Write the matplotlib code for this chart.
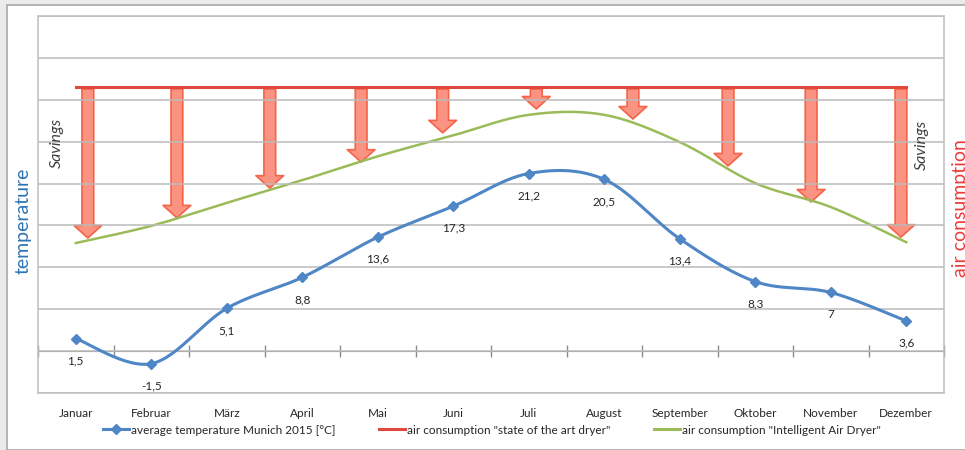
import numpy as np
import matplotlib
matplotlib.use("Agg")
import matplotlib.pyplot as plt
from matplotlib.patches import FancyArrowPatch, Rectangle
from matplotlib.lines import Line2D

plt.rcParams['font.family'] = ['Lato', 'DejaVu Sans']

# ---- data ----
months = ['Januar', 'Februar', 'März', 'April', 'Mai', 'Juni', 'Juli',
          'August', 'September', 'Oktober', 'November', 'Dezember']
temperature = [1.5, -1.5, 5.1, 8.8, 13.6, 17.3, 21.2, 20.5, 13.4, 8.3, 7, 3.6]
temp_labels = ['1,5', '-1,5', '5,1', '8,8', '13,6', '17,3', '21,2', '20,5',
               '13,4', '8,3', '7', '3,6']
# air consumption (arbitrary units, no scale shown in the original)
air_state_of_art = [73] * 12
air_intelligent = [35.8, 39.9, 45.4, 50.8, 56.5, 61.5, 66.4, 66.4, 59.9, 50.1, 44.4, 36.0]
# "Savings" arrows: position (month index) and tip level (air units)
arrow_pos = [0.16, 1.34, 2.57, 3.78, 4.86, 6.10, 7.38, 8.64, 9.74, 10.93]
arrow_tip = [37.0, 41.8, 48.9, 55.1, 62.1, 67.8, 65.4, 54.2, 45.6, 37.2]

BLUE = '#4F86C6'
RED = '#E0483E'
GREEN = '#9BBB59'
GRID = '#BBBBBB'


def smooth(xs, ys, n=30):
    """Excel-like smoothed line (Bezier through the points)"""
    xs = np.asarray(xs, float)
    ys = np.asarray(ys, float)
    px = np.concatenate([[xs[0]], xs, [xs[-1]]])
    py = np.concatenate([[ys[0]], ys, [ys[-1]]])
    out_x, out_y = [], []
    t = np.linspace(0, 1, n)
    for i in range(1, len(px) - 2):
        p0, p1, p2, p3 = [np.array([px[j], py[j]]) for j in (i - 1, i, i + 1, i + 2)]
        c1 = p1 + (p2 - p0) / 6
        c2 = p2 - (p3 - p1) / 6
        b = ((1 - t) ** 3)[:, None] * p1 + (3 * (1 - t) ** 2 * t)[:, None] * c1 \
            + (3 * (1 - t) * t ** 2)[:, None] * c2 + (t ** 3)[:, None] * p2
        out_x.extend(b[:, 0])
        out_y.extend(b[:, 1])
    return np.array(out_x), np.array(out_y)


fig = plt.figure(figsize=(9.65, 4.5), dpi=100)
fig.patch.set_facecolor('#EBEBEB')
W, H = 965.0, 450.0

# white panel
fig.patches.append(Rectangle((7 / W, 0), 1.0, 1 - 5 / H, transform=fig.transFigure,
                             facecolor='white', edgecolor='#A8A8A8', linewidth=1.2,
                             zorder=0))
# white plot area background
fig.patches.append(Rectangle((38 / W, 1 - 393 / H), (944 - 38) / W, (393 - 16) / H,
                             transform=fig.transFigure, facecolor='white',
                             edgecolor='none', zorder=0.5))

ax = fig.add_axes([38 / W, 1 - 393 / H, (944 - 38) / W, (393 - 16) / H])
x = np.arange(len(months))

# secondary axis for air consumption
ax2 = ax.twinx()
ax2.set_ylim(0, 90)
ax2.set_yticks([])
for s in ax2.spines.values():
    s.set_visible(False)

ax.set_xlim(-0.5, 11.5)
ax.set_ylim(-5, 40)
ax.set_yticks(np.arange(-5, 41, 5))
ax.yaxis.grid(True, color=GRID, linewidth=1.1)
ax.tick_params(axis='y', left=False, right=False, labelleft=False)
ax.set_xticks(x)
ax.set_xticklabels(months, fontsize=8.5, color='#262626')
ax.tick_params(axis='x', bottom=False, pad=7)
for s in ax.spines.values():
    s.set_color('#BFBFBF')
    s.set_linewidth(1.1)
ax.set_axisbelow(True)

# zero axis with category ticks
zero = ax.secondary_xaxis(5 / 45)
zero.set_xticks(np.arange(-0.5, 12, 1.0))
zero.tick_params(direction='inout', length=8, color='#8C8C8C', width=1, labelbottom=False)
zero.spines['bottom'].set_color('#8C8C8C')

for xp, tip in zip(arrow_pos, arrow_tip):
    arr = FancyArrowPatch((xp, air_state_of_art[0] - 0.4), (xp, tip),
                          arrowstyle='simple,head_width=20,head_length=9,tail_width=8.5',
                          mutation_scale=1, shrinkA=0, shrinkB=0,
                          facecolor='#FA8773', edgecolor='#F45A3D', linewidth=1.2,
                          alpha=0.9, zorder=2)
    ax2.add_patch(arr)

ax2.plot(x, air_state_of_art, color=RED, linewidth=2.2, zorder=4)
gx, gy = smooth(x, air_intelligent)
ax2.plot(gx, gy, color=GREEN, linewidth=1.8, zorder=3)

bx, by = smooth(x, temperature)
ax.plot(bx, by, color=BLUE, linewidth=2.2, zorder=5)
ax.plot(x, temperature, linestyle='none', marker='D', markersize=5.5,
        color=BLUE, zorder=6)
ax.patch.set_visible(False)
ax2.patch.set_visible(False)
ax2.set_zorder(1)
ax.set_zorder(2)
for xi, yi, lab in zip(x, temperature, temp_labels):
    ax.annotate(lab, (xi, yi), xytext=(0, -16), textcoords='offset points',
                ha='center', va='center', fontsize=8.5, color='#262626')

# side texts
fig.text(23 / W, 1 - 221 / H, 'temperature', rotation=90, ha='center', va='center',
         fontsize=14, color='#2E74B5')
fig.text(57 / W, 1 - 143 / H, 'Savings', rotation=90, ha='center', va='center',
         fontsize=11.5, style='italic', color='#404040')
fig.text(922 / W, 1 - 145 / H, 'Savings', rotation=90, ha='center', va='center',
         fontsize=11.5, style='italic', color='#404040')
fig.text(952 / W, 1 - 277 / H, 'air consumption', rotation=90, ha='left', va='bottom',
         fontsize=14, color='#EE3B3B')

handles = [
    Line2D([], [], color=BLUE, linewidth=2.2, marker='D', markersize=5),
    Line2D([], [], color=RED, linewidth=2.2),
    Line2D([], [], color=GREEN, linewidth=2.2),
]
labels = ['average temperature Munich 2015 [°C]',
          'air consumption "state of the art dryer"',
          'air consumption "Intelligent Air Dryer"']
fig.legend(handles, labels, loc='center', bbox_to_anchor=(492 / W, 1 - 430 / H),
           ncol=3, frameon=False, fontsize=8.5, handlelength=2.2, handletextpad=0.15,
           columnspacing=3.7, labelcolor='#262626')

fig.savefig('out.png', dpi=100, facecolor=fig.get_facecolor())
